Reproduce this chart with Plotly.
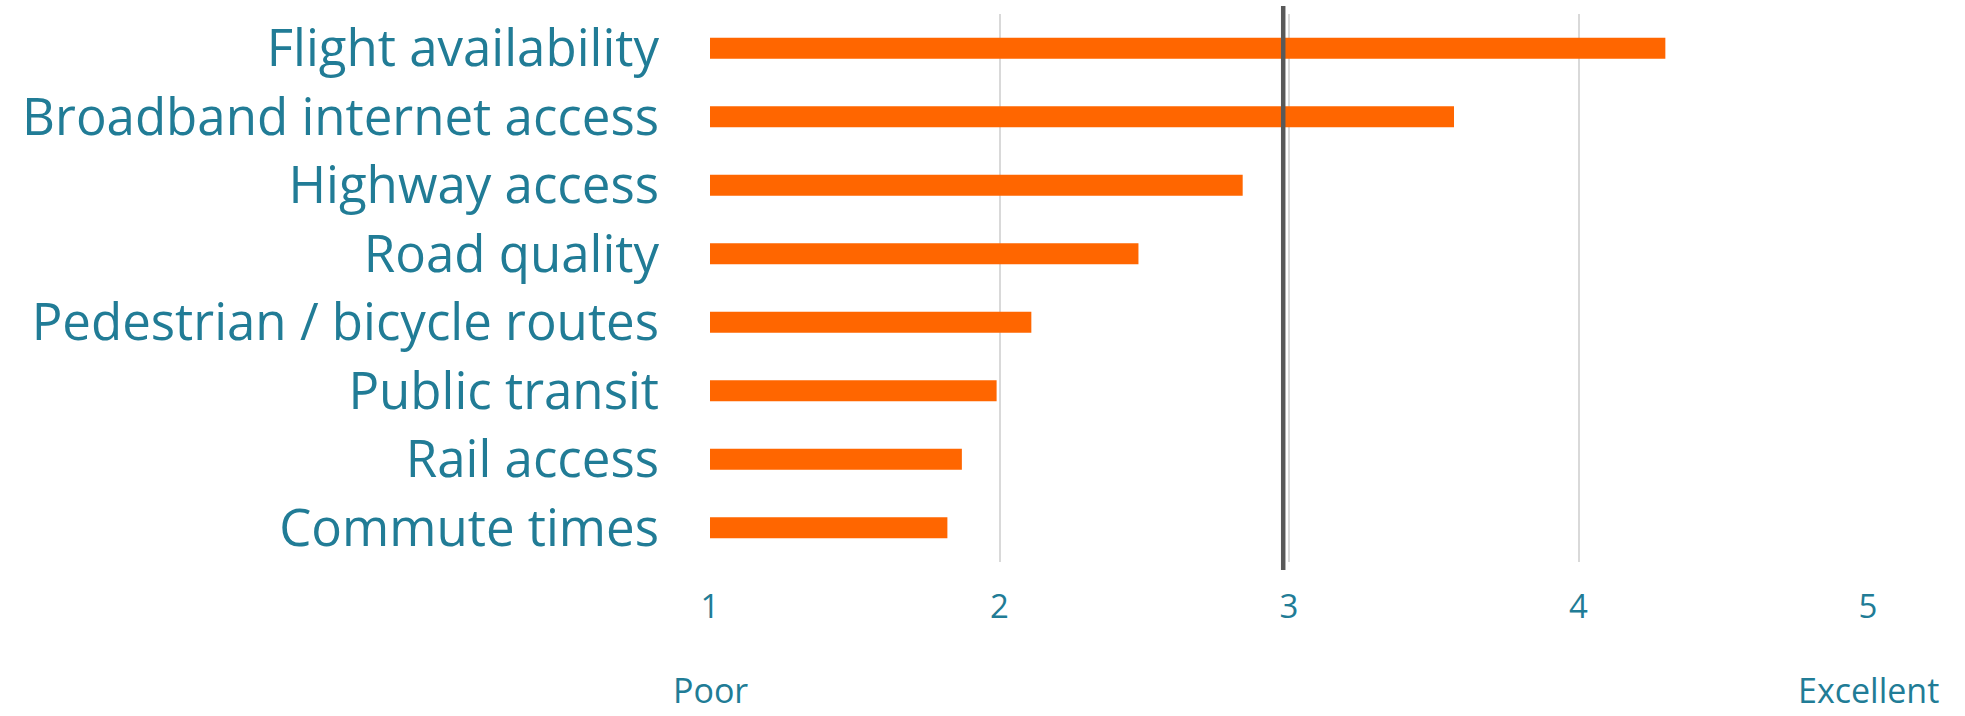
import plotly.graph_objects as go

# Ratings of transportation / connectivity factors (1 = Poor, 5 = Excellent)
categories = [
    "Flight availability",
    "Broadband internet access",
    "Highway access",
    "Road quality",
    "Pedestrian / bicycle routes",
    "Public transit",
    "Rail access",
    "Commute times",
]
scores = [4.30, 3.57, 2.84, 2.48, 2.11, 1.99, 1.87, 1.82]
x_ticks = [1, 2, 3, 4, 5]
scale_ends = {1: "Poor", 5: "Excellent"}
reference_value = 2.98

TEXT = "#217C96"
BAR = "#FF6600"
FONT = "Open Sans"

fig = go.Figure(
    go.Bar(
        x=[s - 1 for s in scores],
        base=1,
        y=categories,
        orientation="h",
        marker=dict(color=BAR, line=dict(width=0)),
        width=0.31,
        hoverinfo="skip",
    )
)

# Reference line across the chart
fig.add_shape(
    type="line",
    xref="x", yref="paper",
    x0=reference_value, x1=reference_value,
    y0=-0.0146, y1=1.0146,
    line=dict(color="#595959", width=4.5),
    layer="above",
)

for xv, label in scale_ends.items():
    fig.add_annotation(
        x=xv, y=-0.233, xref="x", yref="paper",
        text=label, showarrow=False,
        font=dict(size=34, color=TEXT, family=FONT),
        xanchor="center", yanchor="middle",
        borderpad=0,
    )

fig.update_layout(
    width=1965, height=716,
    margin=dict(l=710, r=97, t=14, b=154),
    paper_bgcolor="white", plot_bgcolor="white",
    showlegend=False,
    font=dict(family=FONT, color=TEXT),
    xaxis=dict(
        range=[1, 5],
        tickvals=x_ticks,
        ticktext=[str(v) for v in x_ticks],
        showgrid=True, gridcolor="#D9D9D9", gridwidth=1.5,
        zeroline=False, showline=False,
        tickfont=dict(size=33, color=TEXT),
        ticks="", ticklabelstandoff=22,
    ),
    yaxis=dict(
        categoryorder="array", categoryarray=categories,
        autorange="reversed",
        showgrid=False, zeroline=False, showline=False,
        tickfont=dict(size=51, color=TEXT),
        ticks="", ticklabelstandoff=50,
    ),
)

fig.write_html("out.html")
